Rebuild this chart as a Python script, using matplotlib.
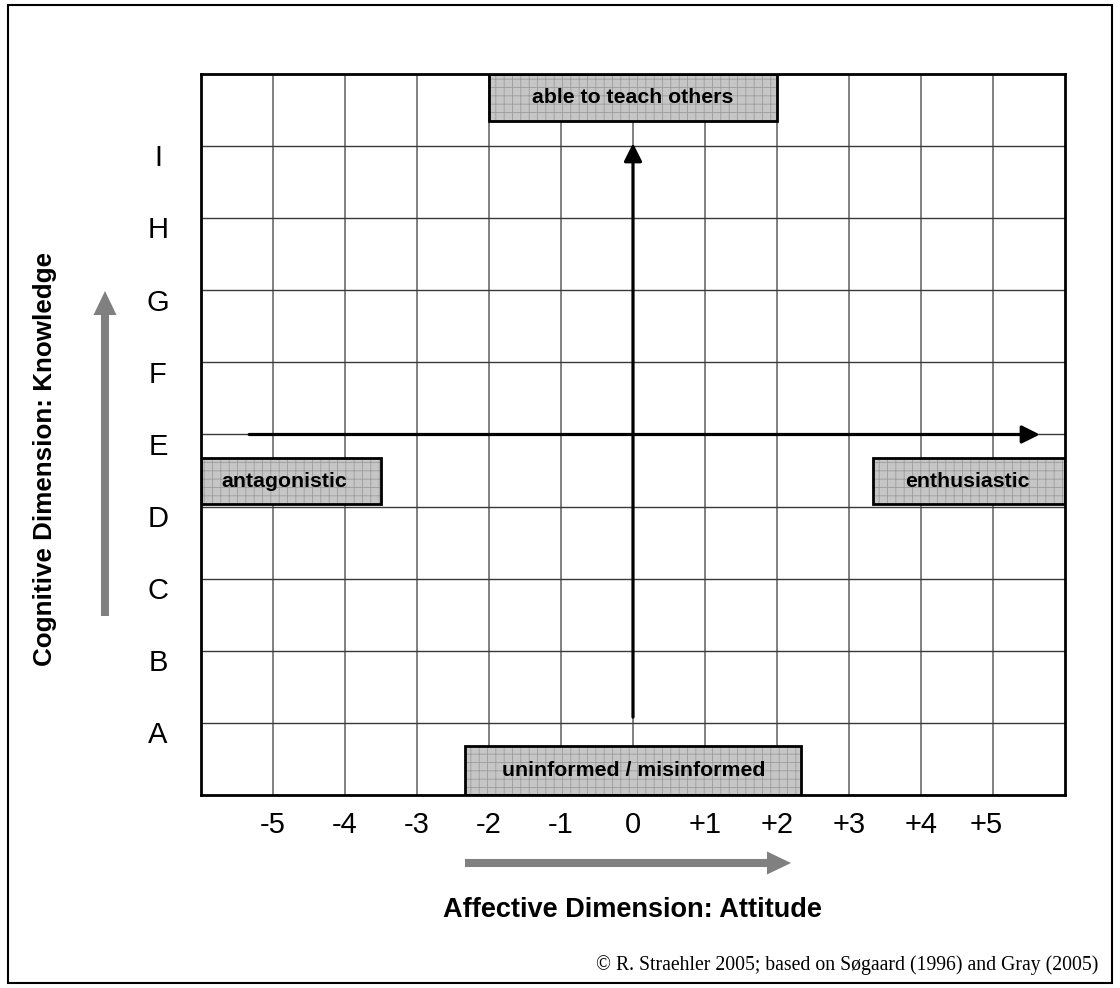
import matplotlib
matplotlib.use("Agg")
import matplotlib.pyplot as plt
from matplotlib.patches import Rectangle

plt.rcParams['font.family'] = ['Liberation Sans', 'DejaVu Sans']
plt.rcParams['hatch.linewidth'] = 0.6

# ---- data ----
x_tick_labels = ['-5', '-4', '-3', '-2', '-1', '0', '+1', '+2', '+3', '+4', '+5']
x_tick_pos = [-5, -4, -3, -2, -1, 0, 1, 2, 3, 4, 4.9]
y_tick_labels = ['A', 'B', 'C', 'D', 'E', 'F', 'G', 'H', 'I']
y_grid = [1, 2, 3, 4, 5, 6, 7, 8, 9]
x_grid = [-5, -4, -3, -2, -1, 0, 1, 2, 3, 4, 5]

box_labels = ['able to teach others', 'antagonistic', 'enthusiastic', 'uninformed / misinformed']
box_x0 = [-2.0, -6.0, 3.33, -2.33]
box_x1 = [2.0, -3.5, 6.0, 2.34]
box_y0 = [9.35, 4.03, 4.03, 0.0]
box_y1 = [10.0, 4.68, 4.68, 0.68]
box_text_dx = [0.0, -0.09, -0.02, 0.0]

h_arrow_x = [-5.33, 5.65]   # horizontal black arrow (tail, tip) at y = 5
h_arrow_y = 5
v_arrow_y = [1.08, 9.04]    # vertical black arrow (tail, tip) at x = 0
v_arrow_x = 0

x_title = 'Affective Dimension: Attitude'
y_title = 'Cognitive Dimension: Knowledge'
credit = '\u00a9 R. Straehler 2005; based on S\u00f8gaard (1996) and Gray (2005)'

# ---- figure ----
W, H = 1120, 988
fig = plt.figure(figsize=(W / 100, H / 100), dpi=100)
ax = fig.add_axes([201 / W, 1 - 795 / H, 864 / W, 721 / H])
ax.set_xlim(-6, 6)
ax.set_ylim(0, 10)
ax.set_xticks([])
ax.set_yticks([])
for s in ax.spines.values():
    s.set_linewidth(2)
    s.set_color('black')
    s.set_zorder(6)

ax.vlines(x_grid, 0, 10, colors='#808080', linewidth=1.4, zorder=1)
ax.hlines(y_grid, -6, 6, colors='#3a3a3a', linewidth=1.0, zorder=1)

# boxes
for lab, x0, x1, y0, y1, dx in zip(box_labels, box_x0, box_x1, box_y0, box_y1, box_text_dx):
    r = Rectangle((x0, y0), x1 - x0, y1 - y0, facecolor='#c6c6c6',
                  edgecolor='#9c9c9c', hatch='++', linewidth=0, zorder=3)
    ax.add_patch(r)
    ax.add_patch(Rectangle((x0, y0), x1 - x0, y1 - y0, facecolor='none',
                           edgecolor='black', linewidth=2, zorder=4))
    ax.text((x0 + x1) / 2 + dx, (y0 + y1) / 2, lab, ha='center', va='center',
            fontsize=15.3, fontweight='bold', zorder=5)

# black arrows
for (xt, yt), (xh, yh) in [((h_arrow_x[0], h_arrow_y), (h_arrow_x[1], h_arrow_y)),
                           ((v_arrow_x, v_arrow_y[0]), (v_arrow_x, v_arrow_y[1]))]:
    ax.annotate('', xy=(xh, yh), xytext=(xt, yt),
                arrowprops=dict(arrowstyle='-|>,head_length=10.8,head_width=5.4',
                                mutation_scale=1, lw=2.3, color='black',
                                shrinkA=0, shrinkB=0), zorder=5)

# tick labels
for lab, xp in zip(x_tick_labels, x_tick_pos):
    ax.text(xp, -0.0415, lab, transform=ax.get_xaxis_transform(),
            ha='center', va='center', fontsize=21)
for lab, yp in zip(y_tick_labels, y_grid):
    ax.text(-0.0498, yp - 0.17, lab, transform=ax.get_yaxis_transform(),
            ha='center', va='center', fontsize=21)

# titles
fig.text(632 / W, 1 - 910 / H, x_title, ha='center', va='center',
         fontsize=19.5, fontweight='bold')
fig.text(45 / W, 1 - 459 / H, y_title, ha='center', va='center',
         fontsize=18.7, fontweight='bold', rotation=90)
fig.text(1098 / W, 1 - 965 / H, credit, ha='right', va='center',
         fontsize=14.2, family=['Liberation Serif', 'DejaVu Serif'])

# gray arrows
gray_style = 'simple,head_length=17.3,head_width=16.6,tail_width=5.8'
ax.annotate('', xy=(105, H - 291), xytext=(105, H - 616),
            xycoords='figure pixels', textcoords='figure pixels',
            arrowprops=dict(arrowstyle=gray_style, mutation_scale=1,
                            color='#808080', lw=0, shrinkA=0, shrinkB=0),
            annotation_clip=False)
ax.annotate('', xy=(791, H - 863), xytext=(465, H - 863),
            xycoords='figure pixels', textcoords='figure pixels',
            arrowprops=dict(arrowstyle=gray_style, mutation_scale=1,
                            color='#808080', lw=0, shrinkA=0, shrinkB=0),
            annotation_clip=False)

# outer frame
fig.add_artist(Rectangle((8 / W, 5 / H), (1112 - 8) / W, (983 - 5) / H,
                         transform=fig.transFigure, fill=False,
                         edgecolor='black', linewidth=1.5))

fig.savefig('out.png', dpi=100)
